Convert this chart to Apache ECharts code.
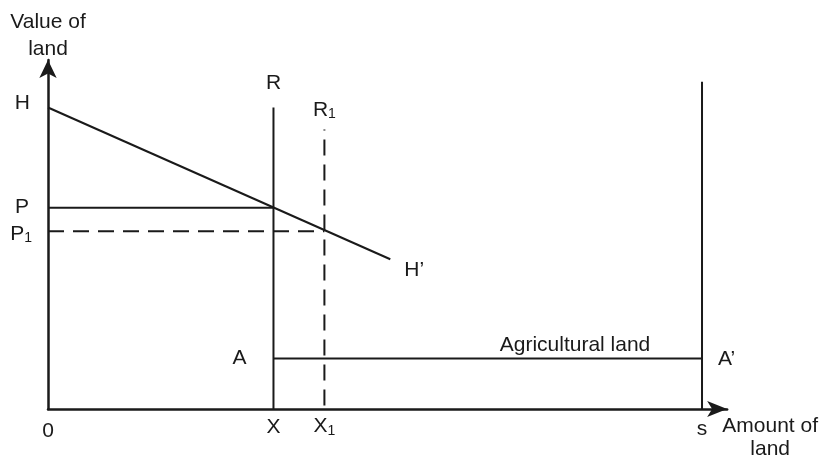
<!DOCTYPE html>
<html>
<head>
<meta charset="utf-8">
<script src="https://cdn.jsdelivr.net/npm/echarts@6/dist/echarts.min.js"></script>
<style>
html, body { margin: 0; padding: 0; background: #fff; overflow: hidden; }
#main { width: 100vw; height: 100vh; }
</style>
</head>
<body>
<div id="main"></div>
<script>
// diagram values, in axis units (0..100 on both axes)
var hLine = [[0, 86.4], [50.4, 42.9]];      // H -> H'
var pLine = [[0, 57.7], [33.2, 57.7]];      // P
var p1Line = [[0, 50.9], [40.7, 50.9]];     // P1 (dashed)
var rLine = [[33.2, 0], [33.2, 86.4]];      // R
var r1Line = [[40.7, 80.1], [40.7, 0]];     // R1 (dashed)
var sLine = [[96.3, 0], [96.3, 93.8]];      // s / A'
var agriLine = [[33.2, 14.5], [96.3, 14.5]]; // agricultural land

var ink = '#1a1a1a';
var font = 'Liberation Sans, Arial, sans-serif';

function seg(data, dashed, offset) {
	return {
		type : 'line',
		data : data,
		symbol : 'none',
		silent : true,
		lineStyle : {
			color : ink,
			width : 2,
			type : dashed ? [ 16, 9 ] : 'solid',
			dashOffset : offset || 0
		}
	};
}

function lbl(pt, text, pos, dist, off) {
	return {
		value : pt,
		label : {
			show : true,
			formatter : text,
			position : pos,
			distance : dist,
			offset : off || [ 0, 0 ]
		}
	};
}

var labels = [
	lbl(hLine[0], '{m|H}', 'left', 18, [ 0, -4 ]),
	lbl(pLine[0], '{m|P}', 'left', 19),
	lbl(p1Line[0], '{m|P}{s|1}', 'left', 16, [ 0, 3 ]),
	lbl(rLine[1], '{m|R}', 'top', 13),
	lbl(r1Line[0], '{m|R}{s|1}', 'top', 8),
	lbl(hLine[1], '{m|H’}', 'right', 14, [ 0, 11 ]),
	lbl([ 0, 0 ], '{m|0}', 'bottom', 12),
	lbl(rLine[0], '{m|X}', 'bottom', 8),
	lbl(r1Line[1], '{m|X}{s|1}', 'bottom', 7),
	lbl(sLine[0], '{m|s}', 'bottom', 10),
	lbl(agriLine[0], '{m|A}', 'left', 27),
	lbl(agriLine[1], '{m|A’}', 'right', 16, [ 0, 1 ]),
	lbl(agriLine[1], '{m|Agricultural land}', 'top', 2, [ -127, 0 ])
];

var myChart = echarts.init(document.getElementById('main'));

myChart.setOption({
	animation : false,
	textStyle : { fontFamily : font, color : ink },
	grid : { left : 48, right : 92, top : 60, bottom : 49 },
	xAxis : {
		type : 'value',
		min : 0,
		max : 100,
		name : 'Amount of\nland',
		nameLocation : 'end',
		nameGap : 43,
		nameTextStyle : {
			fontSize : 21,
			fontFamily : font,
			color : ink,
			align : 'center',
			verticalAlign : 'top',
			lineHeight : 23,
			padding : [ 6, 0, 0, 0 ]
		},
		axisLine : {
			show : true,
			symbol : [ 'none', 'arrow' ],
			symbolSize : [ 12, 20 ],
			lineStyle : { color : ink, width : 2.5 }
		},
		axisTick : { show : false },
		axisLabel : { show : false },
		splitLine : { show : false }
	},
	yAxis : {
		type : 'value',
		min : 0,
		max : 100,
		name : 'Value of\nland',
		nameLocation : 'end',
		nameGap : -3,
		nameTextStyle : {
			fontSize : 21,
			fontFamily : font,
			color : ink,
			align : 'center',
			verticalAlign : 'bottom',
			lineHeight : 27
		},
		axisLine : {
			show : true,
			symbol : [ 'none', 'arrow' ],
			symbolSize : [ 13, 18 ],
			lineStyle : { color : ink, width : 2.5 }
		},
		axisTick : { show : false },
		axisLabel : { show : false },
		splitLine : { show : false }
	},
	series : [
		seg(hLine),
		seg(pLine),
		seg(p1Line, true),
		seg(rLine),
		seg(r1Line, true, 15),
		seg(sLine),
		seg(agriLine),
		{
			type : 'scatter',
			symbolSize : 0,
			silent : true,
			itemStyle : { opacity : 1 },
			data : labels,
			label : {
				color : ink,
				fontFamily : font,
				rich : {
					m : { fontSize : 21, lineHeight : 22, verticalAlign : 'top', fontFamily : font, color : ink },
					s : { fontSize : 14, lineHeight : 14, padding : [ 10, 0, 0, 0 ], verticalAlign : 'bottom', fontFamily : font, color : ink }
				}
			}
		}
	]
});
</script>
</body>
</html>
